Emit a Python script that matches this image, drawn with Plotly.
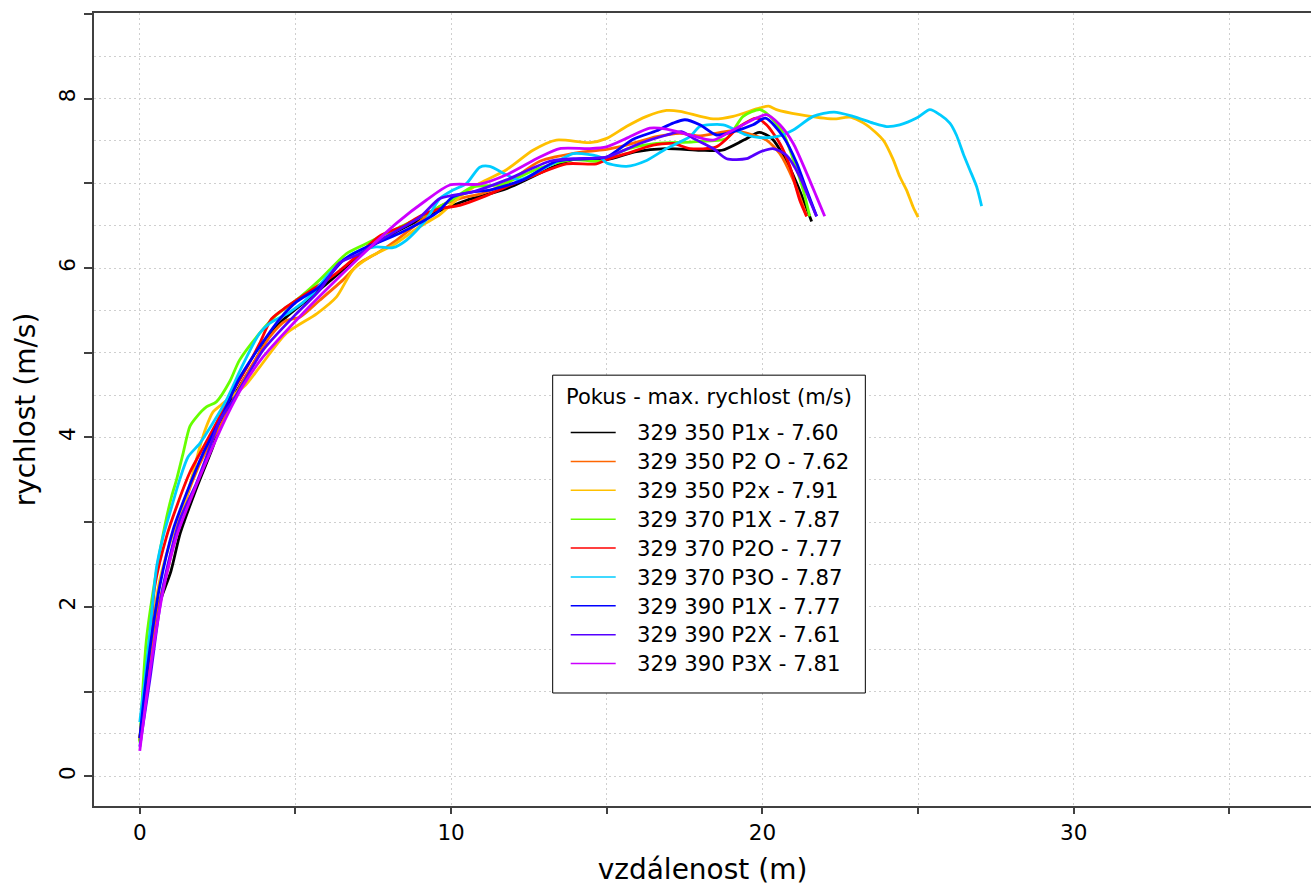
import plotly.graph_objects as go

# ---------------- data ----------------
legend_title = "Pokus - max. rychlost (m/s)"
names = [
    "329 350 P1x - 7.60", "329 350 P2 O - 7.62", "329 350 P2x - 7.91",
    "329 370 P1X - 7.87", "329 370 P2O - 7.77", "329 370 P3O - 7.87",
    "329 390 P1X - 7.77", "329 390 P2X - 7.61", "329 390 P3X - 7.81",
]
colors = ["#000000", "#FF6600", "#FFC000", "#66FF00", "#FF0000",
          "#00CCFF", "#0000FF", "#5500FF", "#CC00FF"]

x_p1x_350 = [0, 0.3, 0.6, 1.0, 1.3, 1.8, 2.35, 2.7, 3.2, 3.7, 4.2, 4.7, 5.5, 6.4, 7.2, 8.0, 9.0, 9.6,
             10.5, 11.8, 13.2, 13.9, 15.0, 15.9, 16.9, 18.0, 18.7, 19.4, 19.9, 20.3, 20.7, 21.1, 21.58]
y_p1x_350 = [0.42, 1.3, 2.0, 2.42, 2.87, 3.38, 3.89, 4.28, 4.6, 4.9, 5.23, 5.42, 5.66, 5.94, 6.2, 6.38, 6.57, 6.67,
             6.8, 6.94, 7.18, 7.28, 7.28, 7.37, 7.41, 7.39, 7.39, 7.51, 7.60, 7.53, 7.31, 7.0, 6.55]

x_p2o_350 = [0, 0.3, 0.54, 0.86, 1.28, 1.71, 2.14, 2.68, 3.1, 3.6, 4.2, 4.7, 5.14, 5.78, 6.53, 7.07, 7.6, 8.25,
             9.0, 9.64, 10.28, 11.0, 11.78, 12.85, 14.24, 15.0, 15.63, 16.6, 17.35, 18.0, 19.06, 19.7, 20.13,
             20.56, 20.99, 21.42]
y_p2o_350 = [0.45, 1.3, 1.92, 2.39, 3.02, 3.5, 3.85, 4.2, 4.52, 4.85, 5.2, 5.38, 5.42, 5.62, 5.86, 6.06, 6.17, 6.33,
             6.55, 6.73, 6.82, 6.88, 7.0, 7.26, 7.37, 7.4, 7.45, 7.55, 7.59, 7.56, 7.62, 7.57, 7.51,
             7.35, 7.04, 6.61]

x_p2x_350 = [0, 0.32, 0.64, 1.07, 1.5, 1.93, 2.14, 2.35, 2.6, 3.0, 3.4, 3.85, 4.71, 5.68, 6.32, 6.85, 7.39, 8.14,
             9.0, 9.64, 10.28, 10.92, 11.78, 12.63, 13.38, 14.46, 15.0, 15.63, 16.28, 16.92, 17.35, 18.42, 19.06,
             19.92, 20.2, 20.45, 21.2, 22.27, 22.81, 23.34, 23.88, 24.2, 24.41, 24.63, 24.84, 25.0]
y_p2x_350 = [0.42, 1.53, 2.31, 2.87, 3.3, 3.89, 4.13, 4.3, 4.38, 4.5, 4.62, 4.83, 5.23, 5.46, 5.66, 5.98, 6.13, 6.27,
             6.49, 6.63, 6.84, 7.0, 7.16, 7.39, 7.51, 7.48, 7.53, 7.67, 7.79, 7.86, 7.85, 7.76, 7.79,
             7.89, 7.91, 7.87, 7.81, 7.76, 7.78, 7.69, 7.51, 7.28, 7.08, 6.92, 6.72, 6.6]

x_p1x_370 = [0, 0.21, 0.48, 0.8, 1.02, 1.18, 1.39, 1.61, 1.82, 2.14, 2.46, 2.89, 3.2, 3.85, 4.4, 5.03, 5.78,
             6.64, 7.17, 8.0, 9.0, 10.0, 10.71, 11.56, 12.85, 13.92, 14.78, 15.63, 16.6, 17.78, 18.85, 19.38,
             19.92, 20.24, 20.67, 20.99, 21.31, 21.52]
y_p1x_370 = [0.4, 1.6, 2.3, 2.95, 3.3, 3.5, 3.81, 4.13, 4.24, 4.36, 4.42, 4.66, 4.91, 5.23, 5.45, 5.62, 5.86,
             6.17, 6.27, 6.42, 6.6, 6.8, 6.96, 6.98, 7.18, 7.28, 7.26, 7.4, 7.47, 7.49, 7.53, 7.79,
             7.87, 7.79, 7.59, 7.28, 6.92, 6.61]

x_p2o_370 = [0, 0.27, 0.48, 0.86, 1.18, 1.6, 1.93, 2.46, 2.89, 3.4, 3.85, 4.23, 4.71, 5.35, 6.32, 7.0, 7.71,
             8.5, 9.0, 9.64, 10.28, 11.03, 11.78, 12.85, 13.71, 14.67, 15.0, 15.63, 16.49, 17.13, 17.67, 18.52,
             19.27, 19.81, 20.13, 20.56, 20.88, 21.2, 21.42]
y_p2o_370 = [0.45, 1.33, 2.24, 2.83, 3.18, 3.58, 3.81, 4.17, 4.48, 4.8, 5.11, 5.4, 5.54, 5.70, 5.94, 6.15, 6.38,
             6.5, 6.61, 6.7, 6.74, 6.84, 6.96, 7.12, 7.23, 7.23, 7.28, 7.35, 7.45, 7.47, 7.41, 7.43,
             7.67, 7.77, 7.69, 7.47, 7.2, 6.8, 6.61]

x_p3o_370 = [0, 0.16, 0.32, 0.54, 0.75, 0.96, 1.28, 1.55, 1.93, 2.35, 2.78, 3.3, 3.85, 4.18, 4.82, 5.56, 6.1,
             6.85, 7.6, 8.13, 8.57, 9.2, 9.64, 10.06, 10.5, 10.92, 11.24, 11.78, 12.2, 13.0, 13.92, 14.2, 14.78,
             15.0, 15.63, 16.28, 16.92, 17.67, 17.99, 18.74, 19.49, 19.92, 20.45, 20.99, 21.63, 22.3, 22.91,
             23.56, 23.99, 24.41, 24.95, 25.38, 25.7, 26.02, 26.23, 26.45, 26.66, 26.88, 27.04]
y_p3o_370 = [0.64, 1.13, 1.69, 2.47, 2.83, 3.1, 3.5, 3.77, 3.93, 4.17, 4.44, 4.85, 5.23, 5.35, 5.48, 5.70, 5.94,
             6.17, 6.25, 6.24, 6.33, 6.57, 6.82, 6.92, 7.0, 7.19, 7.2, 7.1, 7.04, 7.18, 7.35, 7.35, 7.31,
             7.24, 7.2, 7.27, 7.41, 7.55, 7.67, 7.69, 7.57, 7.54, 7.55, 7.63, 7.79, 7.84, 7.79,
             7.71, 7.67, 7.69, 7.77, 7.87, 7.81, 7.71, 7.57, 7.35, 7.16, 6.96, 6.73]

x_p1x_390 = [0, 0.27, 0.64, 1.07, 1.5, 2.03, 2.68, 3.2, 3.85, 4.5, 5.03, 5.78, 6.53, 7.07, 8.35, 9.53, 10.06,
             10.7, 11.24, 12.31, 13.38, 14.46, 15.0, 15.85, 16.6, 17.13, 17.51, 17.99, 18.52, 19.06, 19.7,
             20.1, 20.67, 21.1, 21.42, 21.74]
y_p1x_390 = [0.45, 1.35, 2.24, 2.91, 3.34, 3.81, 4.28, 4.7, 5.07, 5.4, 5.6, 5.78, 6.09, 6.21, 6.41, 6.65, 6.84,
             6.9, 6.92, 7.04, 7.26, 7.29, 7.31, 7.52, 7.62, 7.71, 7.75, 7.69, 7.57, 7.61, 7.69,
             7.77, 7.55, 7.24, 6.92, 6.61]

x_p2x_390 = [0, 0.32, 0.75, 1.28, 1.82, 2.14, 2.57, 3.0, 3.96, 5.0, 5.78, 6.42, 7.07, 7.92, 9.0, 9.64, 10.71,
             11.78, 13.17, 13.92, 14.99, 16.06, 16.92, 17.4, 17.78, 18.42, 18.85, 19.49, 19.92, 20.34, 20.77,
             21.2, 21.52, 21.74]
y_p2x_390 = [0.35, 1.13, 2.24, 3.02, 3.46, 3.77, 4.2, 4.44, 5.03, 5.45, 5.74, 6.06, 6.17, 6.37, 6.6, 6.82, 6.9,
             7.04, 7.26, 7.29, 7.31, 7.47, 7.57, 7.61, 7.53, 7.41, 7.29, 7.29, 7.37, 7.41, 7.33,
             7.08, 6.8, 6.61]

x_p3x_390 = [0, 0.32, 0.75, 1.18, 1.71, 2.25, 2.78, 3.3, 3.96, 5.25, 6.2, 7.07, 8.25, 9.2, 9.96, 10.92, 11.78,
             12.85, 13.49, 14.46, 14.99, 15.63, 16.38, 16.92, 17.67, 18.42, 19.06, 19.81, 20.13, 20.56, 20.99,
             21.42, 21.74, 22.0]
y_p3x_390 = [0.3, 1.22, 2.19, 2.83, 3.34, 3.81, 4.24, 4.6, 4.95, 5.47, 5.82, 6.13, 6.53, 6.8, 6.98, 6.99, 7.1,
             7.31, 7.41, 7.41, 7.43, 7.53, 7.65, 7.64, 7.57, 7.51, 7.63, 7.77, 7.81, 7.69, 7.47,
             7.12, 6.84, 6.61]

xs = [x_p1x_350, x_p2o_350, x_p2x_350, x_p1x_370, x_p2o_370, x_p3o_370, x_p1x_390, x_p2x_390, x_p3x_390]
ys = [y_p1x_350, y_p2o_350, y_p2x_350, y_p1x_370, y_p2o_370, y_p3o_370, y_p1x_390, y_p2x_390, y_p3x_390]

x_ticks = [0, 5, 10, 15, 20, 25, 30, 35]
x_ticktext = ["0", "", "10", "", "20", "", "30", ""]
y_ticks = [0, 1, 2, 3, 4, 5, 6, 7, 8, 9]
y_ticktext = ["0", "", "2", "", "4", "", "6", "", "8", ""]

FONT = "DejaVu Sans"
GRID = "#cfcfcf"
AX = "#404040"
LEG_FONT = 19.9      # sets the legend row spacing
LEG_TEXT = 21.2      # visible size of the legend labels

fig = go.Figure()
for xv, yv, c in zip(xs, ys, colors):
    fig.add_trace(go.Scatter(x=xv, y=yv, mode="lines", showlegend=False, hoverinfo="skip",
                             line=dict(color=c, width=2.8, shape="spline", smoothing=0.7)))
# legend entries (thin sample lines like the reference)
for n, c in zip(names, colors):
    fig.add_trace(go.Scatter(
        x=[None], y=[None], mode="lines",
        name="\u2002\u00a0<span style='font-size:%.1fpx'>%s</span>" % (LEG_TEXT, n),
        line=dict(color=c, width=1.5)))

# legend frame (paper coordinates)
fig.add_shape(type="rect", xref="paper", yref="paper",
              x0=0.3769, x1=0.6338, y0=0.1425, y1=0.5433,
              line=dict(color="black", width=1), fillcolor="white", layer="above")
fig.add_annotation(text=legend_title, xref="paper", yref="paper", x=0.5053, y=0.5156,
                   xanchor="center", yanchor="middle", showarrow=False,
                   font=dict(family=FONT, size=21, color="black"))

fig.update_layout(
    width=1311, height=888,
    margin=dict(l=94, r=0, t=13, b=82),
    paper_bgcolor="white", plot_bgcolor="white",
    font=dict(family=FONT, color="black", size=21),
    showlegend=True,
    legend=dict(
        x=0.3876, y=0.4954, xanchor="left", yanchor="top",
        borderwidth=0, bgcolor="rgba(0,0,0,0)",
        font=dict(family=FONT, size=LEG_FONT, color="black"),
        itemwidth=45, tracegroupgap=0,
    ),
    xaxis=dict(
        range=[-1.47, 37.62], autorange=False,
        tickmode="array", tickvals=x_ticks, ticktext=x_ticktext,
        ticks="outside", ticklen=6, tickwidth=1.5, tickcolor=AX,
        showline=True, linecolor=AX, linewidth=2, mirror=True,
        showgrid=True, gridcolor=GRID, gridwidth=1, griddash="2px,3px",
        zeroline=False,
        tickfont=dict(family=FONT, size=21.5),
        title=dict(text="vzdálenost (m)", font=dict(family=FONT, size=28), standoff=16),
    ),
    yaxis=dict(
        range=[-0.35, 9.01], autorange=False,
        tickmode="array", tickvals=y_ticks, ticktext=y_ticktext,
        ticks="outside", ticklen=8, tickwidth=1.5, tickcolor=AX,
        showline=True, linecolor=AX, linewidth=2, mirror=False,
        showgrid=True, gridcolor=GRID, gridwidth=1, griddash="2px,3px",
        minor=dict(dtick=0.5, tick0=0, showgrid=True, gridcolor=GRID, gridwidth=1,
                   griddash="2px,3px", ticks=""),
        zeroline=False, tickangle=-90,
        tickfont=dict(family=FONT, size=21.5),
        title=dict(text="rychlost (m/s)", font=dict(family=FONT, size=28), standoff=12),
    ),
)

fig.write_html("out.html")
